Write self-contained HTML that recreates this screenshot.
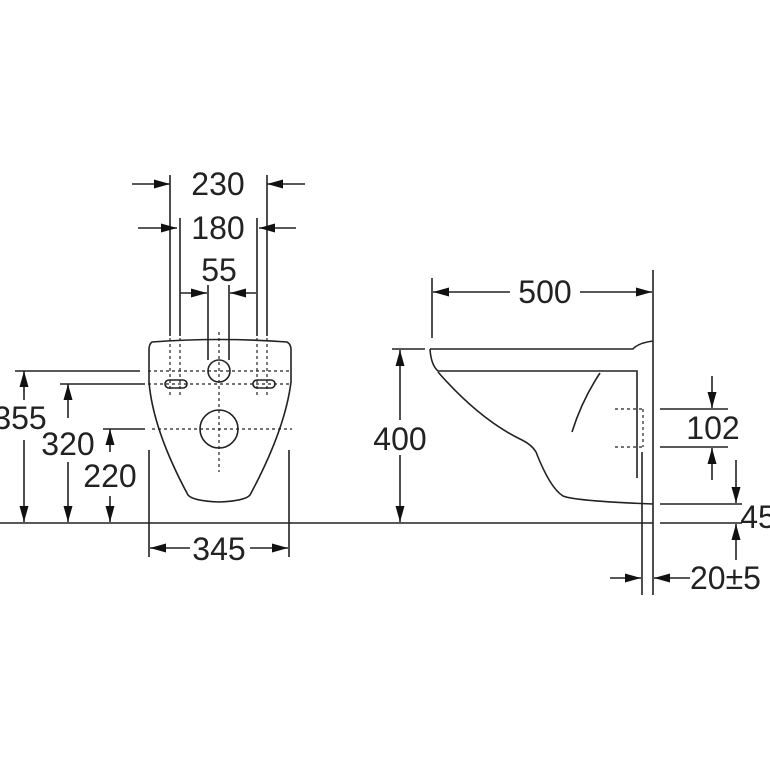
<!DOCTYPE html>
<html><head><style>
html,body{margin:0;padding:0;background:#fff;}
svg{display:block;}
text{font-family:"Liberation Sans",Arial,sans-serif;font-size:32px;fill:#222;}
</style></head><body>
<svg width="770" height="770" viewBox="0 0 770 770" xmlns="http://www.w3.org/2000/svg">
<defs>
<marker id="a" viewBox="0 0 16 10" refX="16" refY="5" markerWidth="16" markerHeight="11" markerUnits="userSpaceOnUse" orient="auto"><path d="M0,0.5 L16,5 L0,9.5 Z" fill="#111"/></marker>
</defs>
<g stroke="#222" stroke-width="1.6" fill="none">
<line x1="0" y1="523" x2="653" y2="523"/>
<line x1="170" y1="175" x2="170" y2="336"/>
<line x1="267" y1="175" x2="267" y2="336"/>
<line x1="180" y1="218" x2="180" y2="336"/>
<line x1="257" y1="218" x2="257" y2="336"/>
<line x1="208" y1="285" x2="208" y2="360"/>
<line x1="229" y1="285" x2="229" y2="360"/>
<line x1="132" y1="184" x2="170" y2="184" marker-end="url(#a)"/>
<line x1="305" y1="184" x2="267" y2="184" marker-end="url(#a)"/>
<line x1="138" y1="228" x2="177" y2="228" marker-end="url(#a)"/>
<line x1="296" y1="228" x2="259" y2="228" marker-end="url(#a)"/>
<line x1="180" y1="293" x2="207" y2="293" marker-end="url(#a)"/>
<line x1="256" y1="293" x2="230" y2="293" marker-end="url(#a)"/>
<path d="M152,342 Q219,337 287,342 Q291,344 291,350 L291,382 Q285,430 250,495 Q245,501 219,502 Q193,501 188,495 Q153,430 149,382 L149,350 Q149,344 152,342 Z"/>
<circle cx="219" cy="371" r="11"/>
<circle cx="219" cy="429" r="19"/>
<rect x="165" y="380" width="22" height="8" rx="4"/>
<rect x="253" y="380" width="22" height="8" rx="4"/>
<line x1="15" y1="371" x2="140" y2="371"/>
<line x1="60" y1="384" x2="145" y2="384"/>
<line x1="103" y1="429" x2="145" y2="429"/>
<line x1="24" y1="400" x2="24" y2="371" marker-end="url(#a)"/>
<line x1="24" y1="440" x2="24" y2="522" marker-end="url(#a)"/>
<line x1="68" y1="418" x2="68" y2="384" marker-end="url(#a)"/>
<line x1="68" y1="462" x2="68" y2="522" marker-end="url(#a)"/>
<line x1="110" y1="452" x2="110" y2="429" marker-end="url(#a)"/>
<line x1="110" y1="496" x2="110" y2="522" marker-end="url(#a)"/>
<line x1="149" y1="450" x2="149" y2="557"/>
<line x1="289" y1="450" x2="289" y2="557"/>
<line x1="190" y1="548" x2="150" y2="548" marker-end="url(#a)"/>
<line x1="250" y1="548" x2="288" y2="548" marker-end="url(#a)"/>
</g>
<g stroke="#222" stroke-width="1.2" fill="none" stroke-dasharray="3,3">
<line x1="148" y1="371" x2="292" y2="371"/>
<line x1="148" y1="384" x2="292" y2="384"/>
<line x1="152" y1="429" x2="292" y2="429"/>
<line x1="219" y1="332" x2="219" y2="472"/>
<line x1="170" y1="338" x2="170" y2="397"/>
<line x1="180" y1="338" x2="180" y2="397"/>
<line x1="257" y1="338" x2="257" y2="397"/>
<line x1="267" y1="338" x2="267" y2="397"/>
<line x1="615" y1="409" x2="643" y2="409"/>
<line x1="615" y1="447" x2="643" y2="447"/>
<line x1="643" y1="409" x2="643" y2="447"/>
</g>
<g stroke="#222" stroke-width="1.6" fill="none">
<line x1="653" y1="270" x2="653" y2="595"/>
<line x1="642" y1="452" x2="642" y2="595"/>
<line x1="432" y1="278" x2="432" y2="338"/>
<line x1="510" y1="292" x2="433" y2="292" marker-end="url(#a)"/>
<line x1="580" y1="292" x2="652" y2="292" marker-end="url(#a)"/>
<path d="M430,349 L633,349 Q638,343 653,341"/>
<path d="M430,349 Q431,365 438,371 L637,371 L637,478"/>
<path d="M438,372 Q480,420 522,440 Q532,445 536,452 Q550,488 563,496 Q575,501 653,504"/>
<path d="M600,373 Q582,400 572,432"/>
<line x1="392" y1="349" x2="425" y2="349"/>
<line x1="400" y1="420" x2="400" y2="350" marker-end="url(#a)"/>
<line x1="400" y1="455" x2="400" y2="522" marker-end="url(#a)"/>
<line x1="660" y1="409" x2="728" y2="409"/>
<line x1="660" y1="447" x2="728" y2="447"/>
<line x1="712" y1="376" x2="712" y2="408" marker-end="url(#a)"/>
<line x1="712" y1="480" x2="712" y2="448" marker-end="url(#a)"/>
<line x1="660" y1="504" x2="742" y2="504"/>
<line x1="660" y1="523" x2="742" y2="523"/>
<line x1="736" y1="460" x2="736" y2="503" marker-end="url(#a)"/>
<line x1="736" y1="560" x2="736" y2="524" marker-end="url(#a)"/>
<line x1="610" y1="578" x2="641" y2="578" marker-end="url(#a)"/>
<line x1="690" y1="578" x2="654" y2="578" marker-end="url(#a)"/>
</g>
<g text-anchor="middle">
<text x="218" y="195">230</text>
<text x="218" y="239">180</text>
<text x="219" y="281">55</text>
<text x="20" y="429">355</text>
<text x="68" y="455">320</text>
<text x="110" y="487">220</text>
<text x="219" y="560">345</text>
<text x="545" y="303">500</text>
<text x="400" y="450">400</text>
<text x="713" y="439">102</text>
<text x="758" y="528">45</text>
</g>
<text x="690" y="589">20±5</text>
</svg>
</body></html>
